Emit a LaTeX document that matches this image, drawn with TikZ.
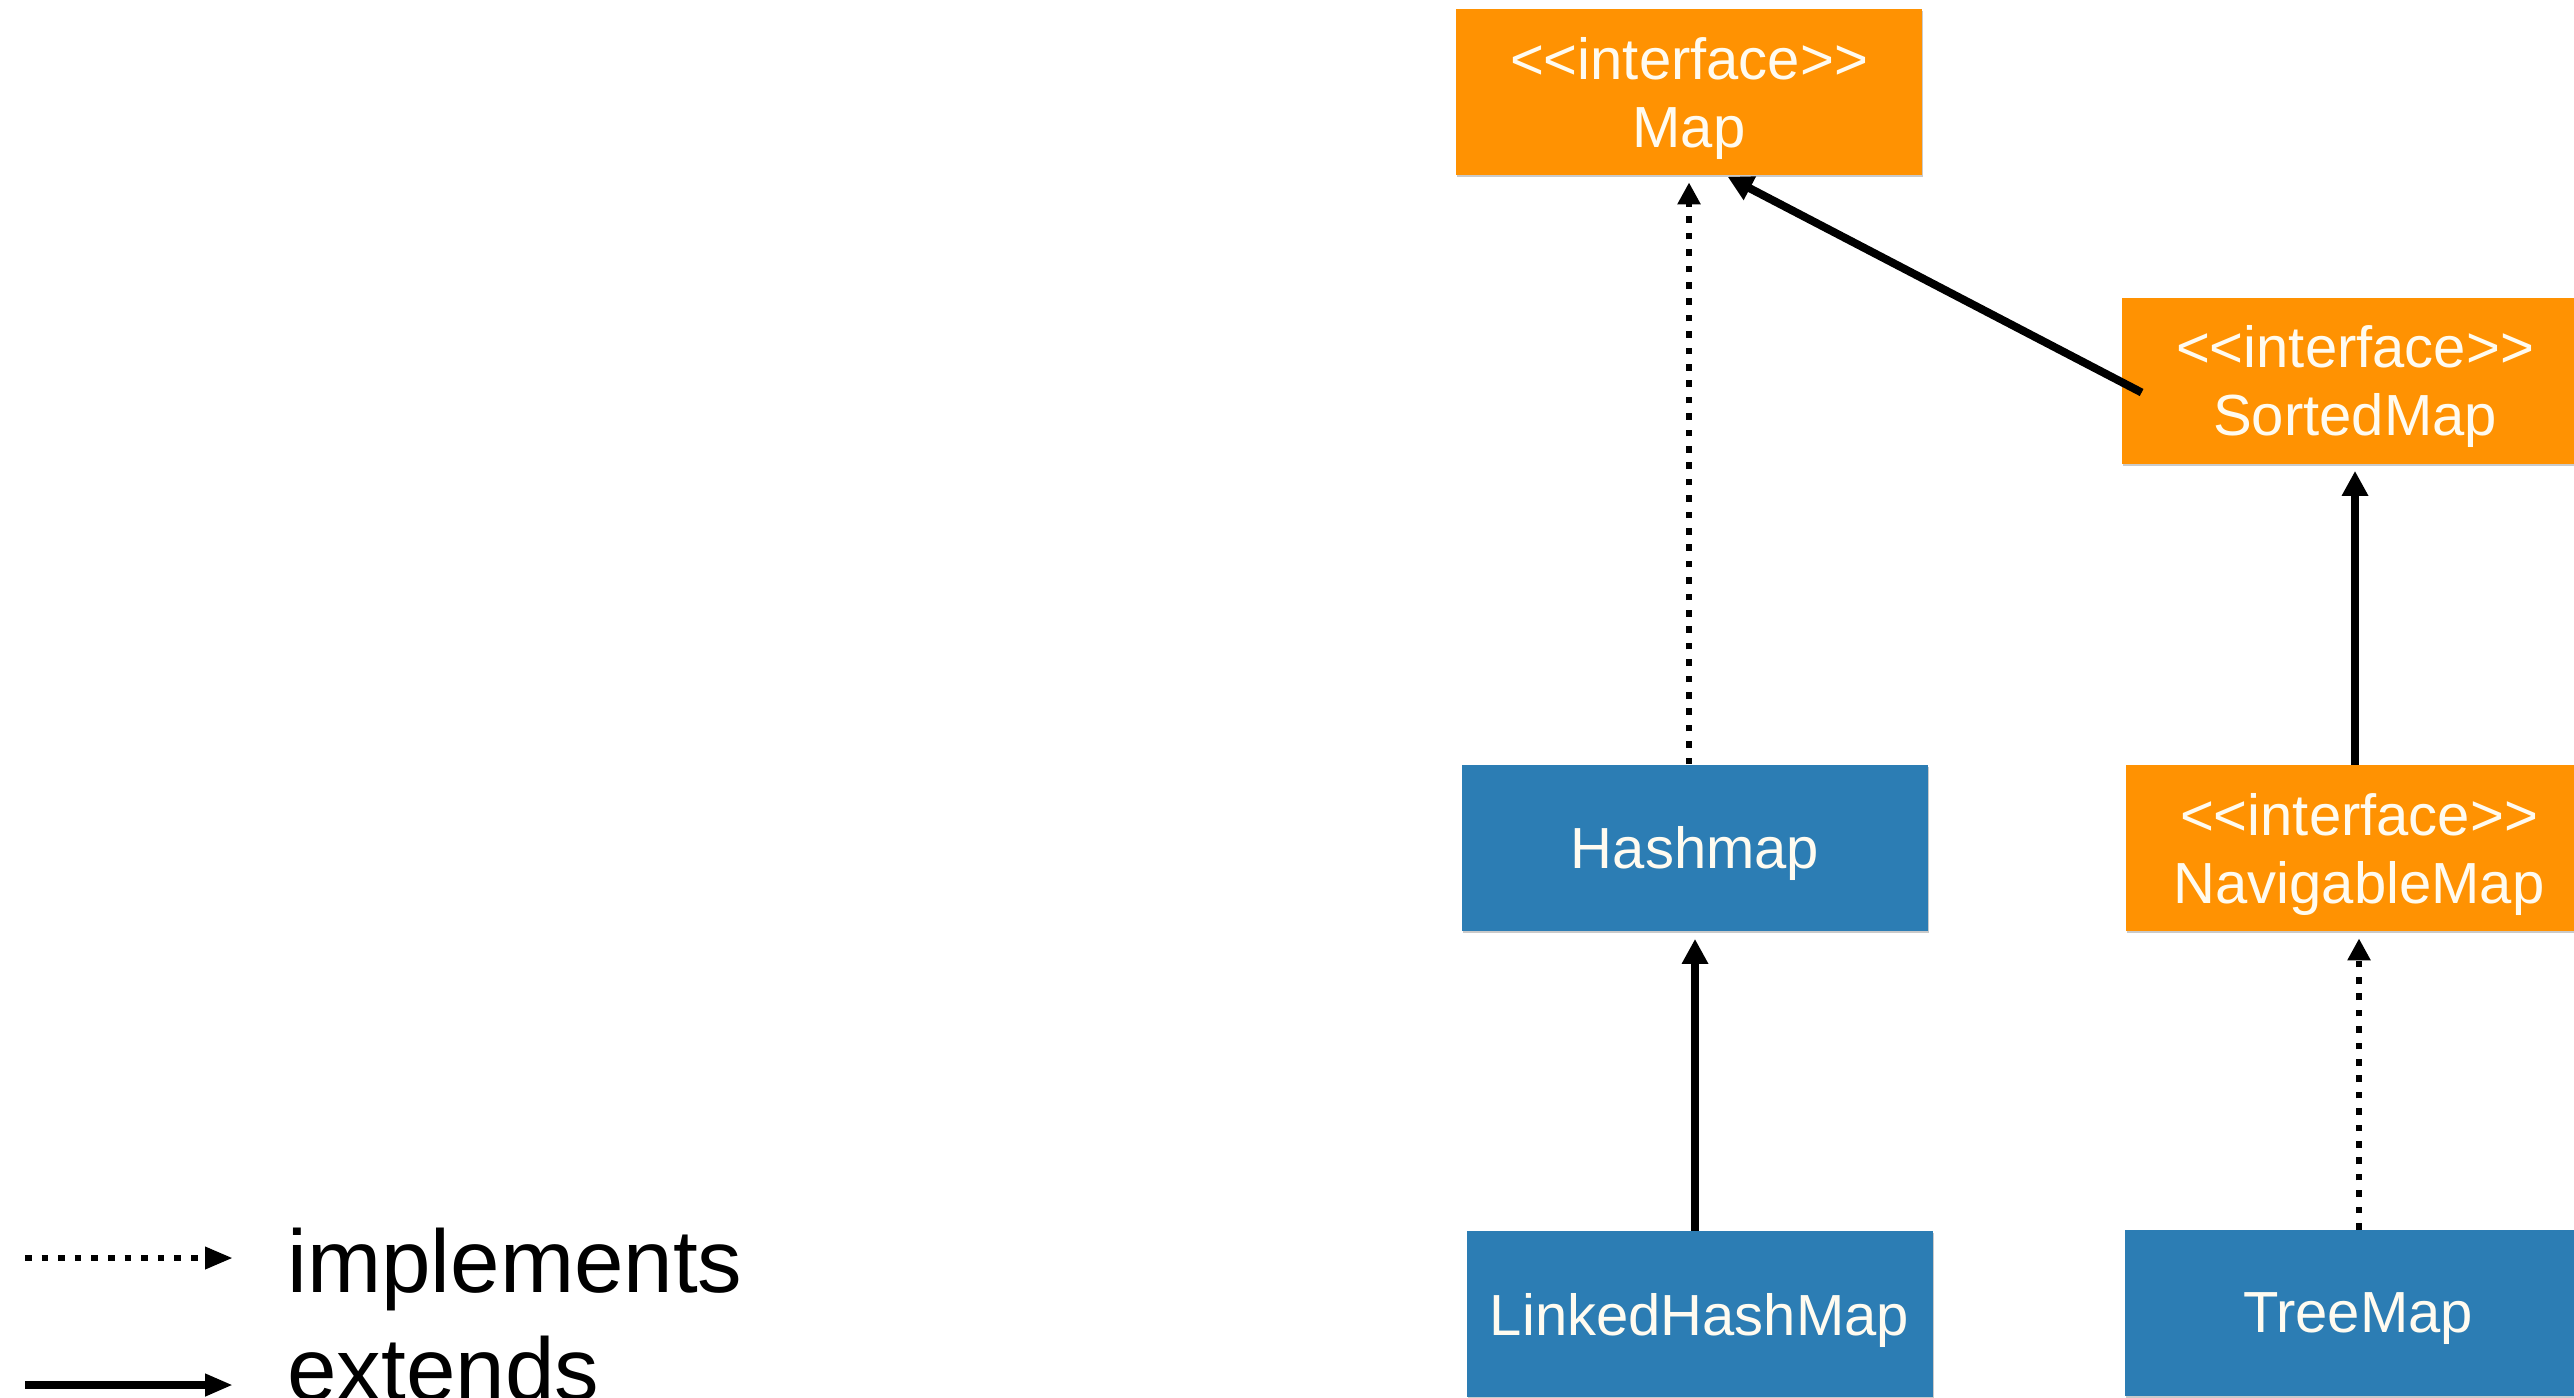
\documentclass[tikz,border=0pt]{standalone}
\usepackage{fontspec}
\setmainfont{Liberation Sans}
\usetikzlibrary{arrows.meta,shadows,calc}
\definecolor{ifaceorange}{RGB}{255,146,2}
\definecolor{classblue}{RGB}{44,125,180}
\definecolor{boxtext}{RGB}{255,251,240}
\newcommand{\ifacetext}[1]{\raisebox{6.3pt}[0pt][0pt]{\begin{tabular}[t]{@{}c@{}}<{}<interface>{}>\\#1\end{tabular}}}
\begin{document}
\begin{tikzpicture}[x=0.5pt,y=-0.5pt,
  box/.style={draw=none, minimum width=233pt, minimum height=83pt, inner sep=0pt,
    text=boxtext, font=\fontsize{29}{34}\selectfont,
    drop shadow={shadow xshift=0.6pt, shadow yshift=-1.2pt, opacity=0.35, fill=black!60}},
  iface/.style={box, fill=ifaceorange},
  cls/.style={box, fill=classblue, text depth=0pt},
  implarrow/.style={line width=3.3pt, dash pattern=on 3.3pt off 4.9pt,
    -{Triangle[length=11pt,width=11pt]}},
  extarrow/.style={line width=4pt, -{Triangle[length=12.5pt,width=12.5pt]}},
  legimpl/.style={line width=3.3pt, dash pattern=on 3.3pt off 5pt,
    -{Triangle[length=14pt,width=10.5pt]}},
  legext/.style={line width=4pt, -{Triangle[length=14pt,width=10.5pt]}},
  legendtext/.style={anchor=base west, inner sep=0pt, font=\fontsize{44.5}{50}\selectfont}
]
\clip (0,0) rectangle (2574,1397);

% boxes
\node[iface] (Map) at (1689,92) {\ifacetext{Map}};
\node[iface] (SortedMap) at (2355,380.5) {\ifacetext{SortedMap}};
\node[cls] (Hashmap) at (1695,847.5) {Hashmap};
\node[iface] (NavigableMap) at (2359,848) {\ifacetext{NavigableMap}};
\node[cls] (LinkedHashMap) at (1699.5,1314) {LinkedHashMap};
\node[cls] (TreeMap) at (2358,1313) {TreeMap};

% connectors
\draw[implarrow, shorten >=3.5pt] (Hashmap.north -| Map.south) -- (Map.south);
\draw[extarrow, shorten >=1.5pt] ($(SortedMap.west)+(20,12)$) -- ($(Map.south)+(36,0)$);
\draw[extarrow, shorten >=3.5pt] (SortedMap.south |- NavigableMap.north) -- (SortedMap.south);
\draw[extarrow, shorten >=4pt] (Hashmap.south |- LinkedHashMap.north) -- (Hashmap.south);
\draw[implarrow, shorten >=3.5pt] (NavigableMap.south |- TreeMap.north) -- (NavigableMap.south);

% legend
\coordinate (implFrom) at (25,1258);
\coordinate (implTo) at (233,1258);
\draw[legimpl] (implFrom) -- (implTo);
\node[legendtext] (implLabel) at (287,1292) {implements};
\coordinate (extFrom) at (25,1385);
\coordinate (extTo) at (233,1385);
\draw[legext] (extFrom) -- (extTo);
\node[legendtext] (extLabel) at (287,1400) {extends};
\end{tikzpicture}
\end{document}
